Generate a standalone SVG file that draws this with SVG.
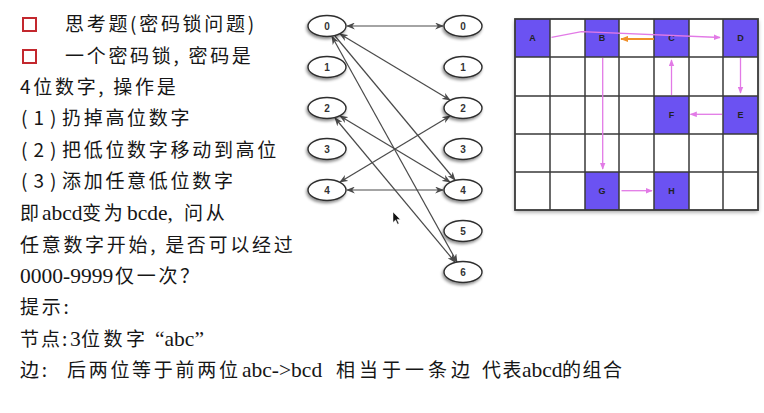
<svg xmlns="http://www.w3.org/2000/svg" width="764" height="413" viewBox="0 0 764 413">
<style>
.cjk{font-family:"Noto Sans CJK SC","Noto Sans",sans-serif;font-size:19px;letter-spacing:2.7px;fill:#161616}
.lat{font-family:"Liberation Serif","Noto Sans CJK SC",serif;font-size:21.5px;letter-spacing:0;fill:#161616}
.par{letter-spacing:6px}
.bullet{fill:none;stroke:#c3282e;stroke-width:2}
.node ellipse{fill:#fff;stroke:#2e2e2e;stroke-width:1.4}
.node text{font-family:"Liberation Sans",Arial,sans-serif;font-size:10px;font-weight:bold;fill:#333;text-anchor:middle}
.edge{stroke:#4a4a4a;stroke-width:1.2;fill:none}
.hl{fill:#6b52f2}
.cl{font-family:"Liberation Sans",Arial,sans-serif;font-size:9px;font-weight:bold;fill:#222;text-anchor:middle}
.pk{stroke:#e27ae6;stroke-width:1.3;fill:none}
.or{stroke:#f0902a;stroke-width:2;fill:none}
</style>
<defs>
<filter id="sh" x="-30%" y="-30%" width="160%" height="170%"><feDropShadow dx="-1" dy="2" stdDeviation="1.4" flood-color="#000" flood-opacity="0.45"/></filter>
<filter id="gsh" x="-5%" y="-5%" width="110%" height="115%"><feDropShadow dx="0" dy="2" stdDeviation="2" flood-color="#000" flood-opacity="0.4"/></filter>
<marker id="ah" viewBox="0 0 10 8" refX="9" refY="4" markerWidth="9" markerHeight="7" markerUnits="userSpaceOnUse" orient="auto-start-reverse"><path d="M0,0 L10,4 L0,8 L3,4 z" fill="#4a4a4a"/></marker>
<marker id="pa" viewBox="0 0 10 8" refX="9" refY="4" markerWidth="7" markerHeight="6" markerUnits="userSpaceOnUse" orient="auto"><path d="M0,0 L10,4 L0,8 z" fill="#e27ae6"/></marker>
<marker id="oa" viewBox="0 0 10 8" refX="9" refY="4" markerWidth="8" markerHeight="7" markerUnits="userSpaceOnUse" orient="auto"><path d="M0,0 L10,4 L0,8 z" fill="#f0902a"/></marker>
</defs>
<rect width="764" height="413" fill="#fff"/>

<!-- left text -->
<g id="text">
<rect class="bullet" x="23" y="18" width="13" height="13"/>
<rect class="bullet" x="23" y="50" width="13" height="13"/>
<text class="cjk" x="65" y="31">思考题(密码锁问题)</text>
<text class="cjk" x="65" y="63">一个密码锁, 密码是</text>
<text class="cjk" x="20" y="94">4位数字, 操作是</text>
<text class="cjk" y="125"><tspan class="par" x="21">(1)</tspan><tspan x="62">扔掉高位数字</tspan></text>
<text class="cjk" y="157"><tspan class="par" x="21">(2)</tspan><tspan x="62">把低位数字移动到高位</tspan></text>
<text class="cjk" y="188"><tspan class="par" x="21">(3)</tspan><tspan x="62">添加任意低位数字</tspan></text>
<text class="cjk" y="220"><tspan x="20">即</tspan><tspan class="lat" x="42">abcd</tspan><tspan x="82">变为</tspan><tspan class="lat" x="127">bcde,</tspan><tspan x="184">问从</tspan></text>
<text class="cjk" x="20" y="252">任意数字开始, 是否可以经过</text>
<text class="cjk" y="283"><tspan class="lat" x="20">0000-9999</tspan><tspan x="115">仅一次？</tspan></text>
<text class="cjk" x="20" y="314">提示:</text>
<text class="cjk" y="346"><tspan x="20" style="letter-spacing:2px">节点:</tspan><tspan class="lat" x="70">3</tspan><tspan x="81" style="letter-spacing:3.5px">位数字</tspan><tspan class="lat" x="155">“abc”</tspan></text>
<text class="cjk" y="377"><tspan x="20">边:</tspan><tspan x="67">后两位等于前两位</tspan><tspan class="lat" x="242">abc-&gt;bcd</tspan><tspan x="336" style="letter-spacing:4px">相当于一条边</tspan><tspan x="482" style="letter-spacing:1.5px">代表</tspan><tspan class="lat" x="522">abcd</tspan><tspan x="562" style="letter-spacing:1.5px">的组合</tspan></text>
</g>

<!-- graph connectors -->
<g id="connectors">
<line class="edge" x1="347" y1="26" x2="443" y2="26" marker-start="url(#ah)" marker-end="url(#ah)"/>
<line class="edge" x1="340" y1="34" x2="450" y2="100" marker-start="url(#ah)" marker-end="url(#ah)"/>
<line class="edge" x1="335" y1="36" x2="455" y2="180" marker-end="url(#ah)"/>
<line class="edge" x1="332" y1="36.5" x2="457" y2="262" marker-start="url(#ah)" marker-end="url(#ah)"/>
<line class="edge" x1="340" y1="116" x2="450" y2="182" marker-start="url(#ah)" marker-end="url(#ah)"/>
<line class="edge" x1="335" y1="118" x2="455" y2="262" marker-start="url(#ah)" marker-end="url(#ah)"/>
<line class="edge" x1="450" y1="116" x2="340" y2="182" marker-start="url(#ah)" marker-end="url(#ah)"/>
<line class="edge" x1="347" y1="190" x2="443" y2="190" marker-start="url(#ah)" marker-end="url(#ah)"/>
</g>

<!-- graph nodes -->
<g id="L0" class="node"><ellipse cx="327" cy="26" rx="19" ry="10.5" filter="url(#sh)"/><text x="327" y="29.5">0</text></g>
<g id="L1" class="node"><ellipse cx="327" cy="67" rx="19" ry="10.5" filter="url(#sh)"/><text x="327" y="70.5">1</text></g>
<g id="L2" class="node"><ellipse cx="327" cy="108" rx="19" ry="10.5" filter="url(#sh)"/><text x="327" y="111.5">2</text></g>
<g id="L3" class="node"><ellipse cx="327" cy="149" rx="19" ry="10.5" filter="url(#sh)"/><text x="327" y="152.5">3</text></g>
<g id="L4" class="node"><ellipse cx="327" cy="190" rx="19" ry="10.5" filter="url(#sh)"/><text x="327" y="193.5">4</text></g>
<g id="R0" class="node"><ellipse cx="463" cy="26" rx="19" ry="10.5" filter="url(#sh)"/><text x="463" y="29.5">0</text></g>
<g id="R1" class="node"><ellipse cx="463" cy="67" rx="19" ry="10.5" filter="url(#sh)"/><text x="463" y="70.5">1</text></g>
<g id="R2" class="node"><ellipse cx="463" cy="108" rx="19" ry="10.5" filter="url(#sh)"/><text x="463" y="111.5">2</text></g>
<g id="R3" class="node"><ellipse cx="463" cy="149" rx="19" ry="10.5" filter="url(#sh)"/><text x="463" y="152.5">3</text></g>
<g id="R4" class="node"><ellipse cx="463" cy="190" rx="19" ry="10.5" filter="url(#sh)"/><text x="463" y="193.5">4</text></g>
<g id="R5" class="node"><ellipse cx="463" cy="231" rx="19" ry="10.5" filter="url(#sh)"/><text x="463" y="234.5">5</text></g>
<g id="R6" class="node"><ellipse cx="463" cy="272" rx="19" ry="10.5" filter="url(#sh)"/><text x="463" y="275.5">6</text></g>

<!-- cursor -->
<path d="M393,212 L393,222.5 L395.6,220 L397.6,224.3 L399,223.6 L397,219.4 L400.3,219.4 z" fill="#111" stroke="#fff" stroke-width="0.5"/>

<!-- grid -->
<g id="grid">
<rect x="515" y="19" width="243" height="191" fill="#fff" filter="url(#gsh)"/>
<rect class="hl" x="515" y="19" width="35" height="38"/>
<rect class="hl" x="585" y="19" width="34" height="38"/>
<rect class="hl" x="654" y="19" width="35" height="38"/>
<rect class="hl" x="723" y="19" width="35" height="38"/>
<rect class="hl" x="723" y="96" width="35" height="38"/>
<rect class="hl" x="654" y="96" width="35" height="38"/>
<rect class="hl" x="585" y="172" width="34" height="38"/>
<rect class="hl" x="654" y="172" width="35" height="38"/>
<path d="M550,19V210M585,19V210M619,19V210M654,19V210M689,19V210M723,19V210M515,57H758M515,96H758M515,134H758M515,172H758" stroke="#3a3a3a" stroke-width="1.5" fill="none"/>
<rect x="515" y="19" width="243" height="191" fill="none" stroke="#3a3a3a" stroke-width="1.8"/>
</g>
<g id="cell-A"><text class="cl" x="532.5" y="41">A</text></g>
<g id="cell-B"><text class="cl" x="602" y="41">B</text></g>
<g id="cell-C"><text class="cl" x="671.5" y="41">C</text></g>
<g id="cell-D"><text class="cl" x="740.5" y="41">D</text></g>
<g id="cell-E"><text class="cl" x="740.5" y="118">E</text></g>
<g id="cell-F"><text class="cl" x="671.5" y="118">F</text></g>
<g id="cell-G"><text class="cl" x="602" y="194">G</text></g>
<g id="cell-H"><text class="cl" x="671.5" y="194">H</text></g>
<g id="grid-connectors">
<polyline class="pk" points="551.5,37.3 581.5,31.7 720,37.5" marker-end="url(#pa)"/>
<line class="or" x1="654" y1="39" x2="621" y2="39" marker-end="url(#oa)"/>
<line class="pk" x1="740.5" y1="58" x2="740.5" y2="93" marker-end="url(#pa)"/>
<line class="pk" x1="722" y1="114.3" x2="690.5" y2="114.3" marker-end="url(#pa)"/>
<line class="pk" x1="671.5" y1="95" x2="671.5" y2="60" marker-end="url(#pa)"/>
<line class="pk" x1="602.7" y1="58" x2="602.7" y2="169" marker-end="url(#pa)"/>
<line class="pk" x1="621.5" y1="190.7" x2="652" y2="190.7" marker-end="url(#pa)"/>
</g>
</svg>
